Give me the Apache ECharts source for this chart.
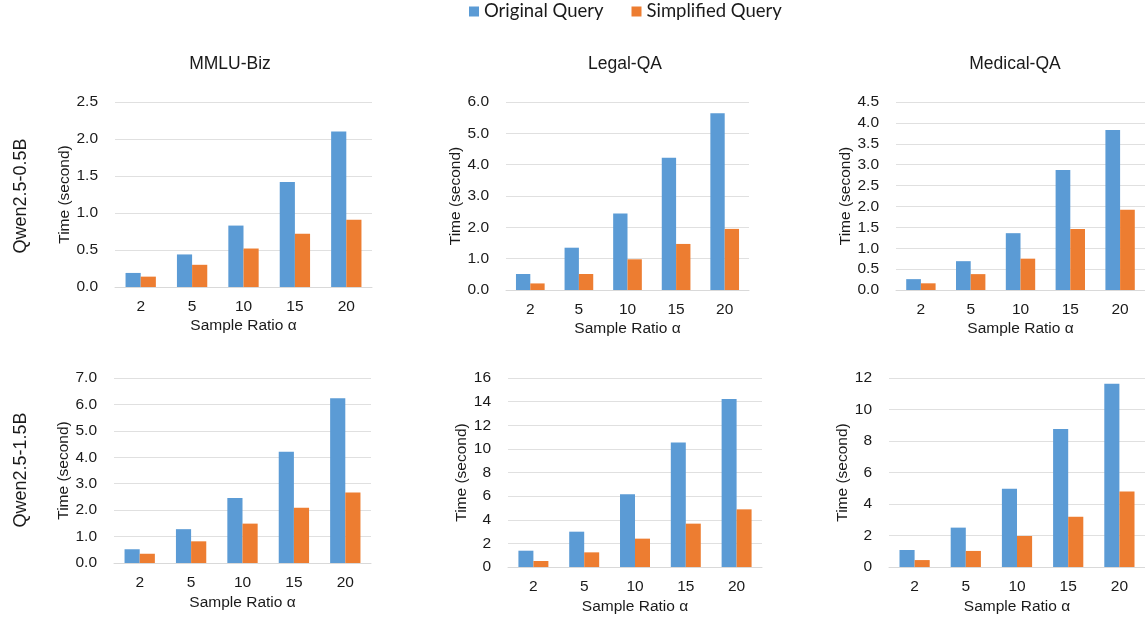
<!DOCTYPE html>
<html>
<head>
<meta charset="utf-8">
<script src="https://cdn.jsdelivr.net/npm/echarts@6/dist/echarts.min.js"></script>
<style>html,body{margin:0;padding:0;background:#fff}#c{width:1145px;height:619px}</style>
</head>
<body>
<div id="c"></div>
<script>
const categories = ['2', '5', '10', '15', '20'];
const seriesNames = ['Original Query', 'Simplified Query'];
const datasets = ['MMLU-Biz', 'Legal-QA', 'Medical-QA'];
const models = ['Qwen2.5-0.5B', 'Qwen2.5-1.5B'];

// Qwen2.5-0.5B
const mmlu05Original = [0.19, 0.44, 0.83, 1.42, 2.10];
const mmlu05Simplified = [0.14, 0.30, 0.52, 0.72, 0.91];
const legal05Original = [0.51, 1.35, 2.44, 4.22, 5.64];
const legal05Simplified = [0.21, 0.51, 0.98, 1.47, 1.95];
const medical05Original = [0.26, 0.69, 1.36, 2.87, 3.83];
const medical05Simplified = [0.16, 0.38, 0.75, 1.46, 1.92];
// Qwen2.5-1.5B
const mmlu15Original = [0.52, 1.28, 2.46, 4.21, 6.23];
const mmlu15Simplified = [0.35, 0.82, 1.49, 2.09, 2.67];
const legal15Original = [1.38, 2.99, 6.15, 10.55, 14.22];
const legal15Simplified = [0.51, 1.24, 2.40, 3.67, 4.88];
const medical15Original = [1.08, 2.50, 4.97, 8.76, 11.64];
const medical15Simplified = [0.44, 1.02, 1.97, 3.19, 4.80];

// y axis ranges per panel: [max, interval, decimals]
const yAxes = [[2.5, 0.5, 1], [6, 1, 1], [4.5, 0.5, 1], [7, 1, 1], [16, 2, 0], [12, 2, 0]];
const panelData = [
  [mmlu05Original, mmlu05Simplified], [legal05Original, legal05Simplified], [medical05Original, medical05Simplified],
  [mmlu15Original, mmlu15Simplified], [legal15Original, legal15Simplified], [medical15Original, medical15Simplified]
];

const grids = [
  {left: 115, right: 773, top: 102, bottom: 332},
  {left: 506, right: 396, top: 102, bottom: 329},
  {left: 896, right: -7, top: 102, bottom: 329},
  {left: 114, right: 774, top: 378, bottom: 56},
  {left: 508, right: 383, top: 378, bottom: 52},
  {left: 889, right: -7, top: 378, bottom: 52}
];
const yNameGaps = [41, 42, 42, 42, 37, 35];
const colors = ['#5B9BD5', '#ED7D31'];
const axisFont = 'Liberation Sans, Arial, sans-serif';
const textColor = '#1a1a1a';

const option = {
  animation: false,
  backgroundColor: '#fff',
  color: colors,
  legend: {
    top: 2, left: 464, padding: [0, 5],
    itemWidth: 10, itemHeight: 10, itemGap: 28,
    icon: 'rect',
    textStyle: {fontFamily: 'Lato, Open Sans, sans-serif', fontSize: 18.5, color: '#1a1a1a'},
    data: seriesNames
  },
  title: [
    {text: datasets[0], left: 225, top: 50, textAlign: 'center'},
    {text: datasets[1], left: 620, top: 50, textAlign: 'center'},
    {text: datasets[2], left: 1010, top: 50, textAlign: 'center'}
  ].map(t => Object.assign(t, {textStyle: {fontFamily: axisFont, fontSize: 17.5, fontWeight: 'normal', color: textColor}})),
  graphic: models.map((m, i) => ({
    type: 'text', x: 21, y: i === 0 ? 196 : 470, rotation: Math.PI / 2,
    style: {text: m, fontFamily: axisFont, fontSize: 18, fill: textColor, textAlign: 'center', textVerticalAlign: 'middle'}
  })),
  grid: grids,
  xAxis: grids.map((g, i) => ({
    type: 'category', gridIndex: i, data: categories,
    axisTick: {show: false},
    axisLine: {lineStyle: {color: '#D9D9D9'}},
    axisLabel: {color: textColor, fontFamily: axisFont, fontSize: 15.5, margin: 12},
    name: 'Sample Ratio α', nameLocation: 'middle', nameGap: i < 3 ? 31 : 32,
    nameTextStyle: {color: textColor, fontFamily: axisFont, fontSize: 15.5}
  })),
  yAxis: yAxes.map((y, i) => ({
    type: 'value', gridIndex: i, min: 0, max: y[0], interval: y[1],
    axisLine: {show: false}, axisTick: {show: false},
    splitLine: {lineStyle: {color: '#E0E0E0'}},
    axisLabel: {color: textColor, fontFamily: axisFont, fontSize: 15.5, margin: 17,
      formatter: v => v.toFixed(y[2])},
    name: 'Time (second)', nameLocation: 'middle', nameGap: yNameGaps[i],
    nameTextStyle: {color: textColor, fontFamily: axisFont, fontSize: 15.5}
  })),
  series: []
};

panelData.forEach((pd, i) => {
  pd.forEach((vals, s) => {
    option.series.push({
      type: 'bar', name: seriesNames[s], xAxisIndex: i, yAxisIndex: i,
      data: vals, barGap: '0%', barCategoryGap: '41%',
      itemStyle: {color: colors[s]}
    });
  });
});

const chart = echarts.init(document.getElementById('c'));
chart.setOption(option);
</script>
</body>
</html>
